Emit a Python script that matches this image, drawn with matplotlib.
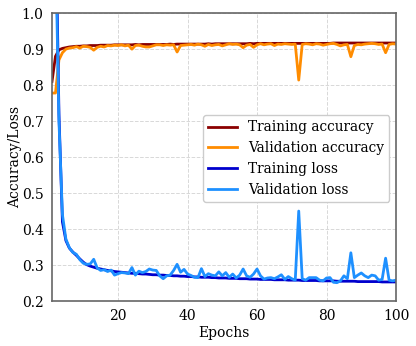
import matplotlib
matplotlib.use("Agg")
import matplotlib.pyplot as plt

# values, one per epoch
epochs = list(range(1, 101))

train_acc = [
    0.810, 0.880, 0.898, 0.902, 0.904, 0.906, 0.907, 0.908, 0.908, 0.909,
    0.909, 0.910, 0.910, 0.910, 0.911, 0.911, 0.911, 0.911, 0.912, 0.912,
    0.912, 0.912, 0.912, 0.912, 0.913, 0.912, 0.913, 0.913, 0.913, 0.913,
    0.913, 0.913, 0.913, 0.913, 0.914, 0.913, 0.914, 0.914, 0.914, 0.914,
    0.914, 0.914, 0.914, 0.914, 0.914, 0.915, 0.914, 0.915, 0.915, 0.915,
    0.915, 0.915, 0.915, 0.915, 0.915, 0.915, 0.915, 0.916, 0.915, 0.916,
    0.916, 0.916, 0.916, 0.916, 0.916, 0.916, 0.916, 0.916, 0.916, 0.916,
    0.916, 0.916, 0.916, 0.916, 0.916, 0.916, 0.916, 0.916, 0.916, 0.916,
    0.916, 0.917, 0.917, 0.917, 0.917, 0.917, 0.917, 0.917, 0.917, 0.917,
    0.917, 0.917, 0.917, 0.917, 0.917, 0.917, 0.917, 0.917, 0.917, 0.917,
]

val_acc = [
    0.778, 0.778, 0.870, 0.890, 0.900, 0.903, 0.904, 0.907, 0.903, 0.908,
    0.907, 0.905, 0.897, 0.905, 0.908, 0.906, 0.910, 0.909, 0.911, 0.910,
    0.912, 0.909, 0.911, 0.900, 0.910, 0.911, 0.908, 0.906, 0.906, 0.909,
    0.912, 0.912, 0.910, 0.912, 0.911, 0.912, 0.892, 0.910, 0.911, 0.912,
    0.913, 0.911, 0.914, 0.912, 0.908, 0.913, 0.910, 0.912, 0.913, 0.909,
    0.912, 0.915, 0.913, 0.914, 0.912, 0.904, 0.911, 0.913, 0.905, 0.912,
    0.915, 0.912, 0.914, 0.915, 0.910, 0.914, 0.913, 0.915, 0.914, 0.913,
    0.914, 0.814, 0.913, 0.915, 0.914, 0.912, 0.915, 0.914, 0.911, 0.913,
    0.915, 0.916, 0.913, 0.909, 0.912, 0.913, 0.879, 0.910, 0.913, 0.912,
    0.914, 0.915, 0.916, 0.915, 0.913, 0.914, 0.890, 0.913, 0.915, 0.914,
]

train_loss = [
    2.500, 1.300, 0.720, 0.420, 0.368, 0.347, 0.336, 0.327, 0.317, 0.308,
    0.301, 0.297, 0.294, 0.291, 0.289, 0.287, 0.285, 0.284, 0.282, 0.281,
    0.280, 0.279, 0.278, 0.277, 0.277, 0.276, 0.275, 0.275, 0.274, 0.273,
    0.273, 0.272, 0.272, 0.271, 0.271, 0.270, 0.270, 0.269, 0.269, 0.268,
    0.268, 0.267, 0.267, 0.266, 0.266, 0.266, 0.265, 0.265, 0.264, 0.264,
    0.264, 0.263, 0.263, 0.263, 0.262, 0.262, 0.262, 0.261, 0.261, 0.261,
    0.260, 0.260, 0.260, 0.260, 0.259, 0.259, 0.259, 0.259, 0.258, 0.258,
    0.258, 0.258, 0.257, 0.257, 0.257, 0.257, 0.257, 0.256, 0.256, 0.256,
    0.256, 0.256, 0.255, 0.255, 0.255, 0.255, 0.255, 0.255, 0.254, 0.254,
    0.254, 0.254, 0.254, 0.254, 0.254, 0.253, 0.253, 0.253, 0.253, 0.253,
]

val_loss = [
    2.000, 1.200, 0.700, 0.440, 0.372, 0.348, 0.335, 0.330, 0.315, 0.305,
    0.302, 0.303, 0.316, 0.292, 0.285, 0.287, 0.282, 0.286, 0.272, 0.276,
    0.279, 0.278, 0.276, 0.293, 0.272, 0.283, 0.279, 0.282, 0.289, 0.286,
    0.285, 0.270, 0.262, 0.270, 0.272, 0.285, 0.302, 0.280, 0.288, 0.275,
    0.271, 0.266, 0.265, 0.290, 0.268, 0.276, 0.272, 0.270, 0.281, 0.270,
    0.279, 0.266, 0.275, 0.264, 0.272, 0.289, 0.270, 0.266, 0.275, 0.289,
    0.270, 0.261, 0.264, 0.265, 0.262, 0.267, 0.273, 0.260, 0.268, 0.262,
    0.258, 0.450, 0.262, 0.258, 0.265, 0.265, 0.265, 0.258, 0.256, 0.264,
    0.265, 0.252, 0.251, 0.256, 0.270, 0.262, 0.334, 0.265, 0.272, 0.278,
    0.270, 0.265, 0.272, 0.270, 0.258, 0.260, 0.319, 0.258, 0.256, 0.258,
]

plt.rcParams['font.family'] = 'DejaVu Serif'
plt.rcParams['font.size'] = 10

fig = plt.figure(figsize=(4.16, 3.46), dpi=100)
ax = fig.add_axes([0.125, 0.130, 0.827, 0.832])

ax.plot(epochs, train_acc, color='#8B0000', lw=2, label='Training accuracy')
ax.plot(epochs, val_acc, color='#FF8C00', lw=2, label='Validation accuracy')
ax.plot(epochs, train_loss, color='#0000CD', lw=2, label='Training loss')
ax.plot(epochs, val_loss, color='#1E90FF', lw=2, label='Validation loss')

ax.set_xlim(1, 100)
ax.set_ylim(0.2, 1.0)
ax.set_xticks([20, 40, 60, 80, 100])
ax.set_yticks([0.2, 0.3, 0.4, 0.5, 0.6, 0.7, 0.8, 0.9, 1.0])
ax.set_yticklabels(['0.2', '0.3', '0.4', '0.5', '0.6', '0.7', '0.8', '0.9', '1.0'])
ax.tick_params(length=0, pad=6)
ax.grid(True, ls='--', color='#d8d8d8', lw=0.7)
for s in ax.spines.values():
    s.set_color('#666666')
    s.set_linewidth(1.2)

ax.set_xlabel('Epochs', labelpad=2)
ax.set_ylabel('Accuracy/Loss', labelpad=0)
ax.legend(loc='center right', bbox_to_anchor=(1.0, 0.495), fontsize=9.8,
          handlelength=2.1, framealpha=1, edgecolor='#cccccc')

fig.savefig('out.png', dpi=100)
